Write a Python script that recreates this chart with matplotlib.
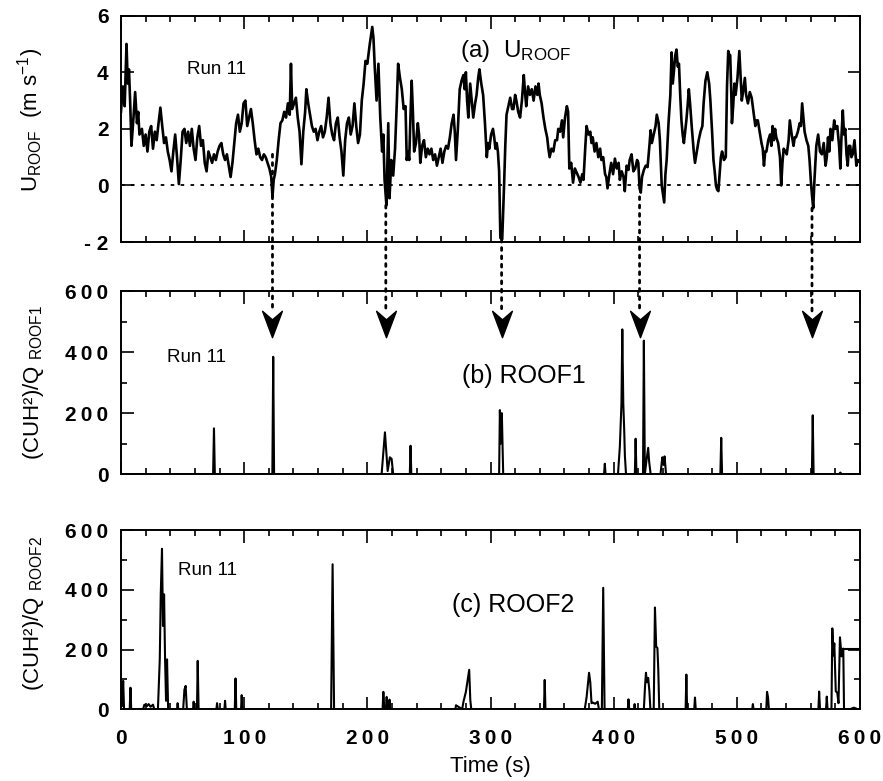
import matplotlib
matplotlib.use("Agg")
import matplotlib.pyplot as plt
import numpy as np
from matplotlib.patches import ConnectionPatch
from matplotlib.path import Path
from matplotlib.ticker import MultipleLocator, FixedLocator

plt.rcParams.update({
    "font.family": ["Liberation Sans", "DejaVu Sans"],
    "mathtext.fontset": "custom",
    "mathtext.rm": "Liberation Sans",
    "mathtext.it": "Liberation Sans:italic",
    "mathtext.bf": "Liberation Sans:bold",
    "axes.linewidth": 1.4,
})

# ---- (a) U_ROOF time series (s, m/s) ----
u_t = [0, 1.5, 3, 4.5, 5.5, 6.5, 7.5, 8.5, 10, 11.5, 13, 14, 15, 17, 18.5, 20, 21.5, 23, 24.5, 26,
       27.5, 29, 30.5, 32, 33.5, 35, 36.5, 38, 39.5, 41, 42.5, 44, 45.5, 47, 48.5, 50, 51.5, 53, 54.5, 56,
       57.5, 59, 60.5, 62, 63.5, 65, 66.5, 68, 69.5, 71, 72.5, 74, 75.5, 77, 78.5, 80, 81.5, 83, 84.5, 86,
       87.5, 89, 90.5, 92, 93.5, 95, 96.5, 98, 99.5, 101, 102.5, 104, 105.5, 107, 108.5, 110, 111.5, 113,
       114.5, 116, 117.5, 119, 120.5, 122, 123, 124, 125, 126.5, 128, 129.5, 131, 132.5, 134, 135.5, 137,
       138, 139, 140.5, 142, 143.5, 145, 146.5, 148, 149.5, 150.5, 152, 153.5, 155, 156.5, 158, 159.5, 161,
       162.5, 164, 165.5, 167, 168.5, 170, 171.5, 173, 174.5, 176, 177.5, 179, 180.5, 182, 183.5, 185,
       186.5, 188, 189.5, 191, 192.5, 194, 195.5, 197, 198.5, 200, 202, 204, 205, 206, 207.5, 209, 210.5,
       212, 213, 214, 215.5, 217, 218, 219.5, 221, 222.5, 224, 225, 226.5, 228, 229.5, 231, 232, 233, 234,
       235, 236, 237, 238, 239.5, 241, 242, 243, 244.5, 246, 247.5, 249, 250.5, 252, 253.5, 255, 256.5,
       258, 259.5, 261, 262.5, 264, 265.5, 267, 268.5, 270, 271, 272, 273.5, 275, 276.5, 278, 279, 280,
       281, 282, 283.5, 285, 286, 287.5, 288.7, 290, 291, 292.5, 294, 295.5, 297, 298, 299, 300.5, 302,
       303, 304, 305, 306, 307, 308, 309.5, 311, 312, 313, 314.5, 316, 317.5, 318.6, 320, 321, 322.5, 324,
       325.5, 327, 328, 329, 330.5, 332, 333.5, 335, 336.5, 338, 339, 340, 341.5, 343, 344.5, 346, 347,
       348, 349.5, 351, 352.5, 354, 355, 356.5, 358, 359, 360.5, 362, 363, 364, 365.5, 367, 368.5, 370,
       371.5, 373, 374.5, 375.5, 377, 378, 379.5, 381, 382, 383, 384.5, 386, 387.5, 389, 390, 391.5, 393,
       394, 395, 396.5, 398, 399.5, 401, 402.5, 404, 405, 406.5, 408, 409, 410.5, 412, 413, 414.5, 416,
       417.5, 419, 420, 421, 422, 423, 424.5, 426, 427.5, 429, 430, 431, 432.5, 434, 435, 436.5, 437.5,
       439, 440, 441, 442, 443, 444.5, 446, 447, 448, 449, 450, 451, 452, 453, 454, 455, 456, 457, 458,
       459, 460, 461, 462, 463.5, 465, 466, 467.5, 469, 470.5, 472, 473, 474.5, 476, 477.5, 478.5, 480,
       481, 482, 483, 484, 485, 486, 487, 488, 489.5, 491, 492, 493, 494, 494.6, 495.5, 496, 497, 498, 499,
       500.5, 502, 503, 504, 505, 506.5, 507.5, 509, 510.5, 512, 513.5, 515, 516, 517, 518.5, 520, 521,
       522, 523, 524, 525.5, 527, 528, 529, 530, 531, 532, 533.5, 535, 536, 537, 538, 539.5, 540.5, 542,
       543, 544.5, 546, 547, 548, 549.5, 551, 552, 553, 554, 555, 556.5, 558, 559, 560, 561, 562, 563,
       564.5, 566, 567.5, 569, 570.5, 572, 573, 574, 575, 576, 577.5, 579, 580, 581.5, 583, 584, 585, 586,
       587, 588, 589, 590, 591, 592, 593, 594, 595.5, 597, 598, 599, 600]
u_v = [2.6, 3.5, 2.8, 5.0, 3.6, 4.1, 2.9, 1.4, 2.3, 3.3, 2.2, 2.6, 1.8, 2.0, 1.4, 1.8, 1.2, 1.9, 2.1, 1.3,
       1.9, 1.6, 2.2, 2.75, 2.1, 1.5, 1.7, 1.2, 0.9, 0.5, 1.2, 1.8, 1.0, 0.05, 0.9, 1.9, 2.0, 1.5, 1.9, 1.4,
       2.0, 1.3, 0.9, 1.7, 2.1, 1.4, 1.6, 0.8, 0.5, 1.2, 1.0, 0.8, 1.1, 0.9, 1.2, 1.4, 1.5, 1.1, 0.9, 1.1,
       0.7, 0.3, 0.8, 1.5, 2.2, 2.5, 1.9, 2.2, 2.9, 3.0, 2.1, 2.4, 2.7, 2.2, 1.6, 1.1, 1.3, 1.0,
       0.9, 1.1, 1.0, 0.8, 0.6, 0.3, -0.4, 0.2, 0.4, 0.9, 1.6, 2.2, 2.3, 2.6, 2.4, 2.9, 2.5,
       4.3, 2.7, 2.9, 3.1, 2.4, 1.9, 0.75, 1.9, 2.6, 3.4, 2.9, 2.5, 2.1, 1.9, 2.0, 1.6, 1.9,
       2.1, 1.7, 1.9, 2.4, 3.1, 2.2, 1.8, 1.6, 2.2, 2.4, 1.7, 1.2, 0.35, 1.6, 2.2, 2.4,
       1.8, 2.1, 2.9, 2.1, 1.5, 1.8, 3.0, 3.6, 4.4, 4.3, 5.0, 5.6, 5.2, 4.2, 3.0, 4.3, 2.4,
       1.2, 1.8, 0.2, -0.7, 2.2, -0.45, 0.9, 0.35, 1.3, 3.0, 4.3, 3.8, 3.4, 2.7, 2.8, 0.9, 1.2, 0.9,
       2.4, 3.7, 2.6, 1.2, 1.5, 2.2, 1.8, 0.8, 1.4, 1.6, 1.0, 1.3, 1.1, 1.3, 0.9, 1.1, 0.7,
       1.0, 1.3, 0.8, 1.2, 1.4, 1.3, 1.7, 2.2, 2.5, 1.9, 0.9, 2.0, 3.4, 3.7, 3.9, 3.4, 4.0,
       3.0, 2.4, 3.6, 2.9, 2.4, 2.9, 3.2, 3.8, 4.1, 3.6, 3.2, 2.2, 1.0, 1.5, 1.3, 1.8, 2.0,
       1.7, 1.3, 1.5, 1.2, 0.5, -1.85, -1.9, 0.0, 1.4, 2.5, 2.8, 3.1, 2.7, 2.7, 3.2, 3.0, 2.6, 2.4,
       3.0, 3.9, 3.3, 2.8, 3.5, 3.2, 3.4, 3.0, 3.5, 3.2, 3.6, 3.2, 2.9, 2.4, 2.0, 1.7, 1.3,
       1.0, 1.3, 1.2, 1.6, 1.6, 2.0, 1.9, 2.3, 1.7, 2.4, 2.8, 2.6, 0.6, 0.8, 0.1, 0.6, 0.45,
       0.3, 0.1, 0.4, 0.2, 1.4, 2.1, 1.8, 1.9, 1.5, 1.7, 1.2, 1.5, 1.0, 1.3, 0.9, 1.0, 0.4,
       0.3, -0.1, 0.4, 0.8, 0.4, 0.95, 0.6, 0.8, 0.2, 0.5, 0.3, -0.2, 0.7, 0.55, 0.9, 1.1, 0.5,
       0.6, 0.9, 0.8, -0.1, -0.25, 0.3, 0.55, 0.7, 0.65, 1.4, 1.95, 1.5, 1.8, 2.1, 2.5, 2.2, 1.6,
       0.0, -0.3, -0.6, 0.4, 0.9, 2.2, 3.2, 4.7, 3.6, 4.1, 4.6, 4.8, 4.2, 4.3, 3.2, 2.3, 1.8, 1.5, 1.9,
       2.3, 2.8, 3.4, 2.9, 2.0, 1.2, 0.8, 1.2, 1.6, 1.9, 2.1, 2.9, 3.7, 4.0, 3.6, 3.0, 1.8,
       0.9, 0.5, 0.0, -0.15, -0.2, 0.4, 1.0, 1.2, 0.9, 1.0, 3.5, 4.75, 4.6, 4.6, 3.2, 2.2, 2.8, 3.6, 3.2,
       3.8, 4.75, 3.9, 3.0, 3.3, 3.8, 3.2, 2.9, 3.3, 3.1, 2.6, 2.1, 2.3, 2.3, 1.9, 1.5, 1.3,
       0.7, 1.2, 1.2, 1.6, 1.8, 1.4, 2.1, 1.6, 2.0, 1.7, 1.5, 1.0, 0.0, 0.8, 1.3, 1.2, 1.1, 1.6,
       2.3, 1.8, 1.4, 1.7, 1.7, 1.9, 2.2, 2.1, 2.9, 2.4, 1.9, 1.6, 1.4, 0.9, 0.2, -0.35, -0.8, 0.2,
       1.4, 1.8, 1.2, 1.1, 1.5, 0.7, 1.0, 1.7, 1.2, 2.0, 1.6, 2.3, 2.0, 2.1, 1.4, 0.6, 1.8, 2.65,
       1.8, 2.0, 1.1, 0.7, 1.4, 1.4, 1.0, 1.1, 1.6, 0.7, 0.9, 0.85, 0.9]

# ---- (b) ROOF1 normalised concentration ----
r1_t = [0, 74.8, 75.5, 76.2, 122.9, 123.6, 124.3, 211.6, 214.3, 216.5, 218.3, 219.7, 221, 234.5, 235.1,
        235.7, 307, 307.6, 308.3, 309.2, 310.3, 392.2, 392.8, 393.4, 403.5, 405, 406.3, 407, 407.8, 408.5,
        409.1, 410, 417.2, 417.8, 418.5, 423.8, 424.5, 425.3, 426.7, 428, 428.8, 430, 438, 439.5, 440.5,
        441.3, 442.5, 486.6, 487.3, 488, 560.9, 561.6, 562.3, 583, 584, 585, 600]
r1_v = [0, 0, 150, 0, 0, 385, 0, 0, 137, 10, 55, 50, 0, 0, 93,
        0, 0, 210, 100, 200, 0, 0, 34, 0, 0, 90, 230, 475, 230, 150,
        60, 0, 0, 116, 0, 0, 438, 0, 47, 86, 40, 0, 0, 55, 30,
        58, 0, 0, 119, 0, 0, 193, 0, 0, 5, 0, 0]

# ---- (c) ROOF2 normalised concentration ----
r2_t = [0, 0.8, 1.8, 2.5, 7.1, 7.7, 8.3, 18, 19, 21, 22.5, 24, 26, 27, 30, 31.5, 32.3, 33.3, 34.1, 35,
        35.8, 36.6, 37.4, 38.3, 45.5, 46, 46.6, 50.5, 51.5, 52.5, 53.5, 58.5, 59, 59.6, 61.7, 62.3, 63,
        77.5, 78, 78.6, 84, 84.5, 85, 92.4, 93, 93.6, 97.5, 98, 98.6, 170.6, 171.8, 173, 212.4, 213,
        213.8, 215.2, 215.7, 216.2, 217.5, 218, 218.6, 271.5, 272, 277, 278, 280, 282.7, 283.6, 284.4,
        343.4, 344, 344.6, 376.5, 378, 380, 381, 382, 383, 385, 387, 388, 390.4, 391.5, 392.6, 411.5,
        412, 412.6, 416.5, 417, 417.5, 424.5, 425.5, 426.2, 427, 428, 429, 429.8, 432.5, 433.5, 434.5,
        435.5, 436.2, 437, 458.4, 459, 459.6, 465.4, 466, 466.6, 512.5, 513, 513.5, 523.9, 524.5,
        525.3, 526, 566.2, 566.8, 567.5, 572.4, 573, 573.6, 576.8, 577.5, 578.4, 579.1, 580.3, 581.5,
        582.5, 583.7, 585, 586.4, 587, 592, 595, 598, 600]
r2_v = [90, 10, 95, 0, 0, 72, 0, 0, 15, 10, 17, 8, 15, 0, 0, 167, 385, 538, 279, 385,
        167, 28, 167, 0, 0, 20, 0, 0, 65, 78, 0, 0, 25, 0, 0, 162, 0,
        0, 20, 0, 0, 28, 0, 0, 103, 0, 0, 47, 0, 0, 486, 0, 0, 58,
        0, 0, 41, 0, 0, 32, 0, 0, 13, 0, 24, 58, 132, 30, 0,
        0, 98, 0, 0, 40, 122, 90, 20, 22, 18, 25, 0, 0, 407, 0, 0,
        33, 0, 0, 17, 0, 0, 80, 122, 90, 105, 60, 0, 0, 341, 210,
        205, 133, 0, 0, 116, 0, 0, 39, 0, 0, 17, 0, 0, 58,
        40, 0, 0, 59, 0, 0, 42, 0, 0, 271, 180, 221, 60, 55,
        20, 241, 177, 203, 0, 0, 5, 0, 0]
r2_tail_t = [586.4, 600]
r2_tail_v = [203, 203]

# dotted arrows linking wind minima (a) to ROOF1 events (b)
arrow_t = [123, 215, 309, 421, 561]
arrow_start = [1.1, -0.7, -1.9, -0.4, -0.8]

x_ticks = [0, 100, 200, 300, 400, 500, 600]
conc_ticks = [0, 200, 400, 600]
u_ticks = [-2, 0, 2, 4, 6]
u_ticklabels = ["- 2", "0", "2", "4", "6"]


def spaced(s):
    return "\u2009".join(s)


fig = plt.figure(figsize=(8.83, 7.81), dpi=100)
axA = fig.add_axes([0.137, 0.690, 0.837, 0.290])
axB = fig.add_axes([0.137, 0.393, 0.837, 0.234])
axC = fig.add_axes([0.137, 0.092, 0.837, 0.229])

tick_font = dict(fontsize=15, fontweight="bold")
for ax in (axA, axB, axC):
    ax.set_xlim(0, 600)
    ax.xaxis.set_major_locator(FixedLocator(x_ticks))
    ax.xaxis.set_minor_locator(MultipleLocator(20))
    ax.tick_params(which="both", direction="in", top=True, right=True, width=1.2)
    ax.tick_params(which="major", length=9, pad=9)
    ax.tick_params(which="minor", length=4.5)

axA.plot(u_t, u_v, color="black", lw=1.9)
axA.axhline(0, color="black", lw=1.3, ls=(0, (2, 3.5)))
axA.set_ylim(-2, 6)
axA.set_yticks(u_ticks)
axA.set_yticklabels(u_ticklabels, **tick_font)
axA.set_xticklabels([])
axA.set_ylabel(r"U$_{\mathrm{ROOF}}$  (m s$^{-1}$)", fontsize=16)
axA.yaxis.set_label_coords(-0.101, 0.54)
axA.text(54, 4.1, "Run 11", fontsize=13.5, va="center")
axA.text(275, 4.55, r"(a)  U$_{\mathrm{ROOF}}$", fontsize=17.5)

for ax, t, v, lab, run_y, lab_xy, ly in (
        (axB, r1_t, r1_v, "ROOF1", 367, (277, 298), 0.5),
        (axC, r2_t, r2_v, "ROOF2", 449, (269, 326), 0.536)):
    ax.plot(t, v, color="black", lw=1.5)
    ax.set_ylim(0, 600)
    ax.set_yticks(conc_ticks)
    ax.set_yticklabels([spaced(str(c)) for c in conc_ticks], **tick_font)
    ax.yaxis.set_minor_locator(MultipleLocator(100))
    ax.set_ylabel("(CUH\u00b2)/Q $_{\\mathrm{%s}}$" % lab, fontsize=16)
    ax.yaxis.set_label_coords(-0.101, ly)
    ax.text(37 if lab == "ROOF1" else 46, run_y, "Run 11", fontsize=13.5)
    ax.text(lab_xy[0], lab_xy[1], "(%s) %s" % ("b" if lab == "ROOF1" else "c", lab), fontsize=18)

axC.plot(r2_tail_t, r2_tail_v, color="black", lw=1.5)
axB.set_xticklabels([])
axC.set_xticklabels([spaced(str(x)) for x in x_ticks], **tick_font)
axC.tick_params(axis="x", which="major", pad=14)
axC.set_xlabel("Time (s)", fontsize=16, labelpad=6)

chevron = Path([(0, -1), (-0.75, 1), (0, 0.35), (0.75, 1), (0, -1)],
               [Path.MOVETO, Path.LINETO, Path.LINETO, Path.LINETO, Path.CLOSEPOLY])
for t, y0 in zip(arrow_t, arrow_start):
    con = ConnectionPatch(xyA=(t, y0), coordsA=axA.transData,
                          xyB=(t, 530), coordsB=axB.transData,
                          color="black", lw=2.0, ls=(0, (1, 2)))
    fig.add_artist(con)
    axB.plot([t], [492], marker=chevron, ms=19, color="black", clip_on=False)

fig.savefig("out.png", dpi=100)
